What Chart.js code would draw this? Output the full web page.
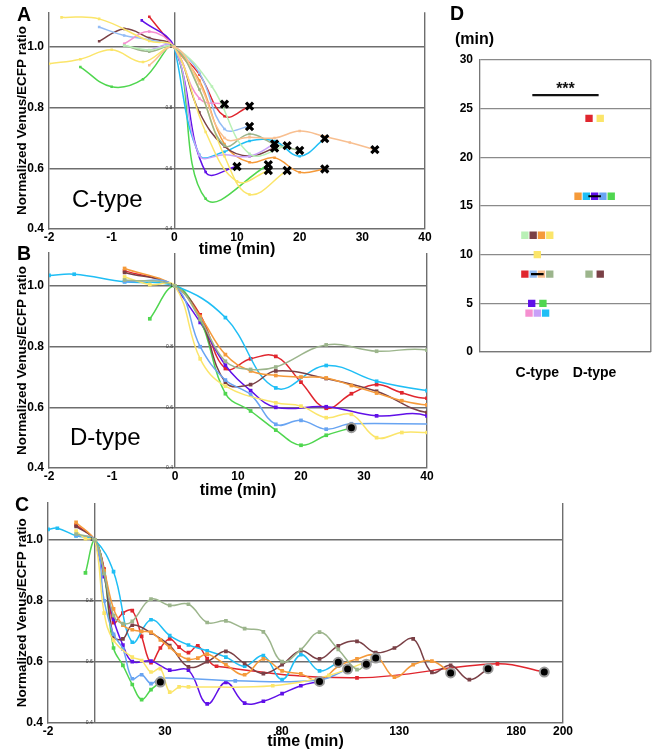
<!DOCTYPE html>
<html><head><meta charset="utf-8">
<script src="https://cdn.jsdelivr.net/npm/chart.js@4.4.1/dist/chart.umd.min.js"></script>
<style>
html,body{margin:0;padding:0;background:#fff;}
body{width:656px;height:751px;position:relative;overflow:hidden;font-family:"Liberation Sans",Arial,Helvetica,sans-serif;}
canvas{position:absolute;}
.lbl{position:absolute;line-height:1;white-space:nowrap;color:#000;}
</style></head><body>
<canvas id="chartA" width="440" height="259" style="left:0px;top:0px"></canvas>
<canvas id="chartB" width="440" height="260" style="left:0px;top:240px"></canvas>
<canvas id="chartC" width="656" height="261" style="left:0px;top:490px"></canvas>
<canvas id="chartD" width="216" height="390" style="left:440px;top:0px"></canvas>
<div class="lbl" style="left:17px;top:5px;font-size:19.5px;font-weight:bold">A</div>
<div class="lbl" style="left:17px;top:244px;font-size:19.5px;font-weight:bold">B</div>
<div class="lbl" style="left:15px;top:495px;font-size:19.5px;font-weight:bold">C</div>
<div class="lbl" style="left:450px;top:4px;font-size:19.5px;font-weight:bold">D</div>
<div class="lbl" style="left:455px;top:31px;font-size:16px;font-weight:bold">(min)</div>
<div class="lbl" style="left:72px;top:187px;font-size:24px;">C-type</div>
<div class="lbl" style="left:70px;top:425px;font-size:24px;">D-type</div>
<script>
// ---------------- colours ----------------
const COL = {
  red:'#e0262e', pink:'#f590d0', lightBlue:'#94bdf5', brown:'#7a4046', yellow:'#fbe56a',
  purple:'#6010e8', lavender:'#c8a0f8', lightGreen:'#b9f0b6', grayGreen:'#9cb58c',
  peach:'#f8bf90', green:'#4fd64f', cyan:'#1fbef5', orange:'#f59a3a', blue:'#68a4f2'
};

// ---------------- tick labels ----------------
const yTicksRatio = [0.4, 0.6, 0.8, 1.0];
const xTicksAB = [-2, -1, 0, 10, 20, 30, 40];
const xTicksC = [-2, 0, 30, 80, 130, 180, 200];
const yTicksD = [0, 5, 10, 15, 20, 25, 30];
const categoriesD = ['C-type', 'D-type'];

// ---------------- panel A: C-type traces [time, ratio] ----------------
const cRed = [[-0.4,1.10],[0,1],[4,0.91],[8,0.772],[12,0.805]];
const cPink = [[-0.8,1.011],[-0.4,1.051],[0,1],[4,0.83],[8,0.812]];
const cLightBlue = [[-1.2,1.066],[-0.8,1.038],[-0.4,1.024],[0,1],[4,0.915],[8,0.73],[12,0.738]];
const cBrown = [[-1.2,1.019],[-0.8,1.06],[-0.4,1.03],[0,1],[4,0.785],[8,0.672],[12,0.64],[16,0.667]];
const cYellowA = [[-1.8,1.098],[-1.2,1.093],[-0.4,1.02],[0,1],[5,0.72],[10,0.557],[15,0.593]];
const cYellowB = [[-2,0.945],[-1.5,0.96],[-1.0,0.991],[-0.5,0.951],[0,1],[4,0.86],[8,0.64],[12,0.514],[18,0.593]];
const cPurple = [[-0.52,1.088],[0,1],[5,0.588],[10,0.606]];
const cLavender = [[-0.43,0.989],[0,1],[4,0.643],[8,0.645],[12,0.64],[16,0.681]];
const cLightGreen = [[-0.8,1.005],[-0.4,0.99],[0,1],[6,0.87],[12,0.648],[18,0.675]];
const cGrayGreen = [[-0.8,1.005],[-0.4,0.985],[0,1],[4,0.86],[8,0.675],[12,0.713],[16,0.68],[20,0.659]];
const cPeach = [[-0.4,0.94],[0,1],[4,0.88],[8,0.70],[12,0.703],[16,0.70],[20,0.723],[24,0.705],[28,0.685],[32,0.662]];
const cGreen = [[-1.5,0.934],[-1.0,0.869],[-0.5,0.894],[0,1],[5,0.50],[15,0.612]];
const cCyan = [[0,1],[4,0.645],[8,0.655],[12,0.69],[16,0.69],[20,0.64],[24,0.698]];
const cOrange = [[0,1],[4,0.89],[8,0.68],[12,0.62],[16,0.635],[20,0.587],[24,0.598]];

// ---------------- panels B & C: D-type traces [time, ratio] ----------------
const dRed = [[-0.8,1.05],[0,1],[4,0.905],[8,0.728],[12,0.76],[16,0.768],[20,0.683],[24,0.597],[28,0.645],[32,0.675],[36,0.648],[40,0.63],[44,0.652],[48,0.61],[52,0.585],[112,0.547],[172,0.593],[192,0.566]];
const dCyan = [[-2,1.035],[-1.6,1.039],[-0.8,1.014],[0,1],[8,0.896],[16,0.664],[24,0.738],[32,0.686],[40,0.655],[48,0.636],[56,0.615],[64,0.585],[72,0.62],[80,0.541],[88,0.623],[96,0.57],[104,0.598]];
const dGrayGreen = [[-0.8,1.02],[0,1],[4,0.89],[8,0.752],[12,0.725],[16,0.733],[24,0.806],[32,0.785],[40,0.789],[48,0.729],[56,0.734],[64,0.709],[72,0.698],[80,0.6],[88,0.64],[96,0.697],[104,0.64],[112,0.574],[116,0.592]];
const dBrown = [[-0.8,1.045],[0,1],[4,0.895],[8,0.683],[12,0.675],[16,0.72],[24,0.695],[32,0.653],[40,0.583],[48,0.60],[56,0.634],[64,0.594],[72,0.561],[80,0.59],[88,0.636],[96,0.609],[104,0.652],[112,0.667],[120,0.63],[128,0.645],[136,0.675],[144,0.565],[152,0.588],[160,0.541],[168,0.577]];
const dOrange = [[-0.8,1.058],[0,1],[4,0.9],[8,0.774],[12,0.72],[16,0.705],[20,0.70],[24,0.697],[28,0.672],[32,0.647],[36,0.622],[40,0.608],[44,0.612],[48,0.625],[56,0.59],[64,0.557],[72,0.609],[80,0.57],[88,0.56],[96,0.537],[104,0.585],[112,0.609],[120,0.62],[128,0.549],[136,0.59],[144,0.602],[152,0.563]];
const dPurple = [[0,1],[4,0.88],[8,0.739],[12,0.655],[16,0.60],[24,0.602],[32,0.572],[40,0.572],[48,0.461],[56,0.532],[64,0.464],[72,0.47],[80,0.495],[88,0.521],[96,0.535]];
const dBlue = [[-0.8,1.015],[0,1],[4,0.80],[8,0.69],[12,0.642],[16,0.544],[20,0.557],[24,0.528],[28,0.546],[60,0.537],[96,0.54],[108,0.576]];
const dYellow = [[-0.8,1.03],[-0.4,1.005],[0,1],[4,0.76],[8,0.67],[16,0.615],[20,0.604],[24,0.566],[28,0.577],[32,0.50],[36,0.517],[40,0.517],[76,0.521],[100,0.555],[120,0.612]];
const dGreen = [[-0.4,0.892],[0,1],[4,0.89],[8,0.645],[12,0.588],[16,0.525],[20,0.475],[24,0.508],[28,0.533]];

// ---------------- panel D: time (min) per cell ----------------
const dotCTimes = [12,12,12,12,10,8,8,8,8,5,5,4,4,4];
const dotCColors = [COL.lightGreen,COL.brown,COL.orange,COL.yellow,COL.yellow,COL.red,COL.lightBlue,COL.peach,COL.grayGreen,COL.purple,COL.green,COL.pink,COL.lavender,COL.cyan];
const dotDTimes = [24,24,16,16,16,16,16,8,8];
const dotDColors = [COL.red,COL.yellow,COL.orange,COL.cyan,COL.purple,COL.blue,COL.green,COL.grayGreen,COL.brown];
const sigLevel = 26.4;

// ---------------- helpers ----------------
const FONT = "'Liberation Sans', Arial, Helvetica, sans-serif";
Chart.defaults.font.family = FONT;
Chart.defaults.color = '#000';
const GRID = '#6e6e6e';
// broken time axis: the pre-stimulus part is stretched ten-fold
const T = t => (t < 0 ? t * 10 : t);
const untT = v => (v < 0 ? v / 10 : v);
const pts = arr => arr.map(([t, v]) => ({x: T(t), y: v}));

function traceDS(arr, color, r) {
  return {type:'line', data: pts(arr), borderColor: color, backgroundColor: color,
    borderWidth: 1.5, tension: 0.4, pointStyle: 'rect', pointRadius: r,
    pointBorderWidth: 0, pointBackgroundColor: color};
}
function endDS(traces, kind) {
  const data = traces.map(a => { const [t, v] = a[a.length - 1]; return {x: T(t), y: v}; });
  if (kind === 'x') {
    return {type:'scatter', data, order:-1, showLine:false, pointStyle:'crossRot', pointRadius:5,
      pointBorderWidth:3.2, pointBorderColor:'#000', pointBackgroundColor:'#000'};
  }
  return {type:'scatter', data, order:-1, showLine:false, pointStyle:'circle', pointRadius:4.5,
    pointBorderWidth:2, pointBorderColor:'#9a9a9a', pointBackgroundColor:'#000'};
}

const tinyLabels = {
  id:'tinyLabels',
  afterDatasetsDraw(chart) {
    const {ctx, scales:{x, y}} = chart;
    const px = x.getPixelForValue(0);
    ctx.save();
    ctx.font = '5px ' + FONT; ctx.fillStyle = '#333'; ctx.textAlign = 'right'; ctx.textBaseline = 'middle';
    yTicksRatio.forEach(v => ctx.fillText(v === 1 ? '1' : v.toFixed(1), px - 2, y.getPixelForValue(v)));
    ctx.restore();
  }
};

function ratioScales(xMin, xMax, xTicks, yMax, yW, xH) {
  return {
    x: {type:'linear', min:T(xMin), max:T(xMax),
      afterBuildTicks: s => { s.ticks = xTicks.map(v => ({value: T(v)})); },
      afterFit: s => { s.height = xH; },
      ticks: {autoSkip:false, maxRotation:0, padding:1.5, font:{size:12, weight:'bold'}, color:'#000',
        callback: (v) => (xTicks === xTicksC && v === 0 ? '' : String(untT(v)))},
      grid: {drawTicks:false, lineWidth:1.4,
        color: c => (c.tick && (c.tick.value === 0 || c.tick.value === T(xMax))) ? GRID : 'rgba(0,0,0,0)'},
      border: {display:true, color:GRID, width:1.4},
      title: {display:true, text:'time (min)', font:{size:16, weight:'bold'}, color:'#000', padding:{top:0, bottom:0}}
    },
    y: {type:'linear', min:0.4, max:yMax,
      afterBuildTicks: s => { s.ticks = yTicksRatio.map(v => ({value: v})); },
      afterFit: s => { s.width = yW; },
      ticks: {padding:5, font:{size:12, weight:'bold'}, color:'#000', callback: v => v.toFixed(1)},
      grid: {drawTicks:false, lineWidth:1.4, color: c => (c.tick && c.tick.value > 0.5) ? GRID : 'rgba(0,0,0,0)'},
      border: {display:true, color:GRID, width:1.4},
      title: {display:true, text:'Normalized Venus/ECFP ratio', font:{size:13.5, weight:'bold'}, color:'#000', padding:{top:14, bottom:0}}
    }
  };
}
const baseOpts = {responsive:false, animation:false, plugins:{legend:{display:false}, tooltip:{enabled:false}}};

// ---------------- panel A ----------------
const cTraces = [[cPeach,COL.peach],[cLightGreen,COL.lightGreen],[cGrayGreen,COL.grayGreen],[cYellowA,COL.yellow],
  [cYellowB,COL.yellow],[cLavender,COL.lavender],[cPink,COL.pink],[cLightBlue,COL.lightBlue],[cBrown,COL.brown],
  [cOrange,COL.orange],[cCyan,COL.cyan],[cGreen,COL.green],[cPurple,COL.purple],[cRed,COL.red]];
new Chart(document.getElementById('chartA'), {
  type:'line',
  data:{datasets:[...cTraces.map(([a, c]) => traceDS(a, c, 1.8)), endDS(cTraces.map(t => t[0]), 'x')]},
  options:{...baseOpts, layout:{padding:{left:0, top:12, right:15, bottom:0}},
    scales: ratioScales(-2, 40, xTicksAB, 1.115, 49, 30)},
  plugins:[tinyLabels]
});

// ---------------- panels B & C ----------------
const dTraces = [[dGrayGreen,COL.grayGreen],[dYellow,COL.yellow],[dBlue,COL.blue],[dOrange,COL.orange],
  [dBrown,COL.brown],[dCyan,COL.cyan],[dGreen,COL.green],[dPurple,COL.purple],[dRed,COL.red]];
new Chart(document.getElementById('chartB'), {
  type:'line',
  data:{datasets:[...dTraces.map(([a, c]) => traceDS(a, c, 2.6)), endDS(dTraces.map(t => t[0]), 'o')]},
  options:{...baseOpts, layout:{padding:{left:0, top:13, right:13, bottom:0}},
    scales: ratioScales(-2, 40, xTicksAB, 1.109, 49, 32)},
  plugins:[tinyLabels]
});
new Chart(document.getElementById('chartC'), {
  type:'line',
  data:{datasets:[...dTraces.map(([a, c]) => traceDS(a, c, 2.6)), endDS(dTraces.map(t => t[0]), 'o')]},
  options:{...baseOpts, layout:{padding:{left:0, top:13, right:93, bottom:0}},
    scales: ratioScales(-2, 200, xTicksC, 1.122, 48, 28.5)},
  plugins:[tinyLabels]
});

// ---------------- panel D ----------------
const D_X_MAX = 2.98, D_PLOT_W = 175;
function jitter(values, center) {
  const groups = {};
  values.forEach((v, i) => { (groups[v] = groups[v] || []).push(i); });
  const out = new Array(values.length);
  Object.values(groups).forEach(idx => {
    const n = idx.length, sp = (n === 2 ? 11.5 : 8.5) * D_X_MAX / D_PLOT_W;
    idx.forEach((i, k) => { out[i] = {x: center + (k - (n - 1) / 2) * sp, y: values[i]}; });
  });
  return out;
}
function median(a) { const s = [...a].sort((p, q) => p - q), m = s.length >> 1; return s.length % 2 ? s[m] : (s[m - 1] + s[m]) / 2; }
function medianDS(values, center) {
  const m = median(values);
  return {type:'line', order:-1, data:[{x:center - 0.11, y:m}, {x:center + 0.11, y:m}], borderColor:'#000', borderWidth:2.2, pointRadius:0};
}
const sigPlugin = {
  id:'sig',
  afterDatasetsDraw(chart) {
    const {ctx, chartArea, scales:{x, y}} = chart;
    const x1 = x.getPixelForValue(1) - 5, x2 = x.getPixelForValue(2) + 4, yy = y.getPixelForValue(sigLevel);
    ctx.save();
    ctx.strokeStyle = '#111'; ctx.lineWidth = 2.2;
    ctx.beginPath(); ctx.moveTo(x1, yy); ctx.lineTo(x2, yy); ctx.stroke();
    ctx.fillStyle = '#111'; ctx.font = 'bold 16px ' + FONT; ctx.textAlign = 'center'; ctx.textBaseline = 'alphabetic';
    ctx.fillText('***', (x1 + x2) / 2, yy - 1);
    ctx.strokeStyle = '#777'; ctx.lineWidth = 1.3;
    ctx.beginPath(); ctx.moveTo(chartArea.right, chartArea.top); ctx.lineTo(chartArea.right, chartArea.bottom); ctx.stroke();
    ctx.restore();
  }
};
new Chart(document.getElementById('chartD'), {
  type:'scatter',
  data:{datasets:[
    {data: jitter(dotCTimes, 1), pointStyle:'rect', pointRadius:5.2, pointBorderWidth:0, pointBackgroundColor: dotCColors},
    {data: jitter(dotDTimes, 2), pointStyle:'rect', pointRadius:5.2, pointBorderWidth:0, pointBackgroundColor: dotDColors},
    medianDS(dotCTimes, 1), medianDS(dotDTimes, 2)
  ]},
  options:{...baseOpts, layout:{padding:{left:0, top:60, right:1, bottom:0}},
    scales:{
      x:{type:'linear', min:0, max:D_X_MAX,
        afterBuildTicks: s => { s.ticks = categoriesD.map((c, i) => ({value: i + 1})); },
        afterFit: s => { s.height = 38; s.paddingLeft = 0; s.paddingRight = 0; },
        ticks:{autoSkip:false, maxRotation:0, padding:5, font:{size:14, weight:'bold'}, color:'#000',
          callback: v => categoriesD[v - 1] || ''},
        grid:{display:false},
        border:{display:true, color:'#777', width:1.3}},
      y:{type:'linear', min:0, max:30,
        afterBuildTicks: s => { s.ticks = yTicksD.map(v => ({value: v})); },
        afterFit: s => { s.width = 40; },
        ticks:{padding:7, font:{size:12, weight:'bold'}, color:'#000'},
        grid:{drawTicks:false, lineWidth:1.2, color:'#8a8a8a'},
        border:{display:true, color:'#777', width:1.3}}
    }},
  plugins:[sigPlugin]
});
</script>
</body></html>
